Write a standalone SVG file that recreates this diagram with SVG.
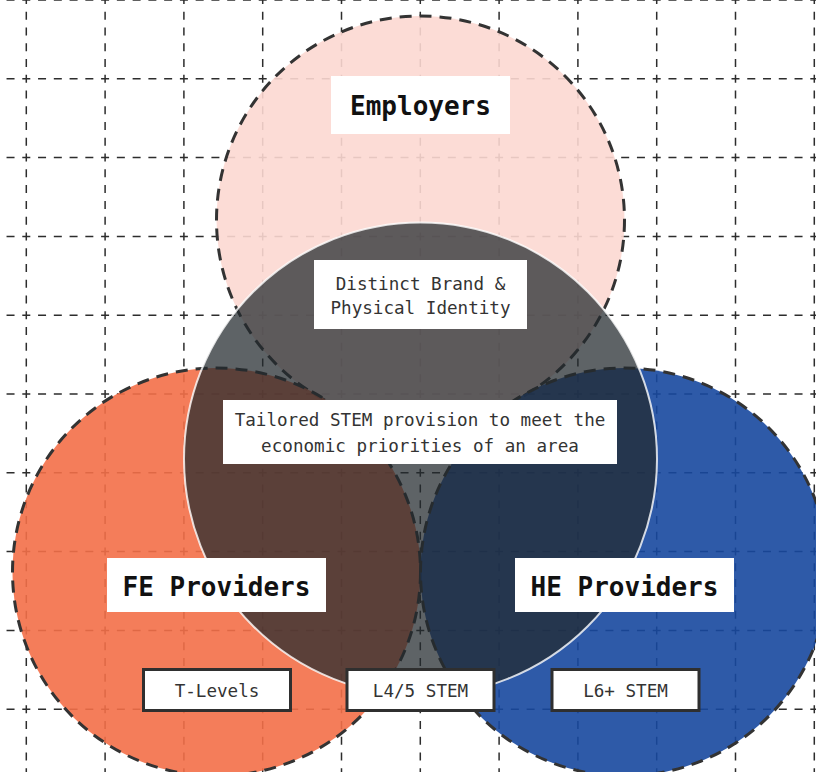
<svg xmlns="http://www.w3.org/2000/svg" width="816" height="772" viewBox="0 0 816 772">
<style>
.grid line{stroke:#2d2d2d;stroke-width:1.5;stroke-dasharray:8 7.76;stroke-dashoffset:4;fill:none}
.ring{stroke:#333;stroke-width:3;stroke-dasharray:12 8;fill:none}
.lbl{fill:#fff}
.box{fill:#fff;stroke:#2f2f2f;stroke-width:3}
.big{font-family:"DejaVu Sans Mono","Liberation Mono",monospace;font-weight:bold;font-size:26px;fill:#111;text-anchor:middle}
.sm{font-family:"DejaVu Sans Mono","Liberation Mono",monospace;font-size:17.6px;fill:#333;text-anchor:middle}
</style>
<rect width="816" height="772" fill="#fff"/>
<g class="grid" id="grid">
<line x1="26.3" y1="0" x2="26.3" y2="772"/>
<line x1="105.1" y1="0" x2="105.1" y2="772"/>
<line x1="183.9" y1="0" x2="183.9" y2="772"/>
<line x1="262.7" y1="0" x2="262.7" y2="772"/>
<line x1="341.5" y1="0" x2="341.5" y2="772"/>
<line x1="420.3" y1="0" x2="420.3" y2="772"/>
<line x1="499.1" y1="0" x2="499.1" y2="772"/>
<line x1="577.9" y1="0" x2="577.9" y2="772"/>
<line x1="656.7" y1="0" x2="656.7" y2="772"/>
<line x1="735.5" y1="0" x2="735.5" y2="772"/>
<line x1="814.3" y1="0" x2="814.3" y2="772"/>
<line x1="-52.5" y1="0" x2="816" y2="0"/>
<line x1="-52.5" y1="78.8" x2="816" y2="78.8"/>
<line x1="-52.5" y1="157.6" x2="816" y2="157.6"/>
<line x1="-52.5" y1="236.4" x2="816" y2="236.4"/>
<line x1="-52.5" y1="315.2" x2="816" y2="315.2"/>
<line x1="-52.5" y1="394" x2="816" y2="394"/>
<line x1="-52.5" y1="472.8" x2="816" y2="472.8"/>
<line x1="-52.5" y1="551.6" x2="816" y2="551.6"/>
<line x1="-52.5" y1="630.4" x2="816" y2="630.4"/>
<line x1="-52.5" y1="709.2" x2="816" y2="709.2"/>
</g>
<g id="employers">
<circle cx="420.5" cy="220" r="204" fill="#fcd8d2" fill-opacity="0.9"/>
<circle class="ring" cx="420.5" cy="220" r="204"/>
</g>
<g id="fe-providers">
<circle cx="216.5" cy="572" r="204" fill="#f36f48" fill-opacity="0.9"/>
<circle class="ring" cx="216.5" cy="572" r="204"/>
</g>
<g id="he-providers">
<circle cx="624.5" cy="572" r="204" fill="#17489e" fill-opacity="0.9"/>
<circle class="ring" cx="624.5" cy="572" r="204"/>
</g>
<g id="core">
<circle cx="420.5" cy="459" r="236.5" fill="#22292d" fill-opacity="0.73" stroke="#ffffff" stroke-opacity="0.8" stroke-width="2"/>
</g>
<g id="label-employers">
<rect class="lbl" x="331" y="76" width="179" height="58"/>
<text class="big" x="420.5" y="115">Employers</text>
</g>
<g id="label-brand">
<rect class="lbl" x="314" y="260" width="213" height="69"/>
<text class="sm" x="420.5" y="289.5">Distinct Brand &amp;</text>
<text class="sm" x="420.5" y="314">Physical Identity</text>
</g>
<g id="label-tailored">
<rect class="lbl" x="223" y="400" width="394" height="64"/>
<text class="sm" x="420" y="425.7">Tailored STEM provision to meet the</text>
<text class="sm" x="420" y="451.7">economic priorities of an area</text>
</g>
<g id="label-fe">
<rect class="lbl" x="107" y="558" width="219" height="54"/>
<text class="big" x="216.5" y="595.5">FE Providers</text>
</g>
<g id="label-he">
<rect class="lbl" x="515" y="558" width="219" height="54"/>
<text class="big" x="624.5" y="595.5">HE Providers</text>
</g>
<g id="tlevels">
<rect class="box" x="143.5" y="669.5" width="147" height="41"/>
<text class="sm" x="217" y="696.5">T-Levels</text>
</g>
<g id="l45">
<rect class="box" x="347" y="669.5" width="147" height="41"/>
<text class="sm" x="420.5" y="696.5">L4/5 STEM</text>
</g>
<g id="l6">
<rect class="box" x="552" y="669.5" width="147" height="41"/>
<text class="sm" x="625.5" y="696.5">L6+ STEM</text>
</g>
<g id="connectors"></g>
</svg>
